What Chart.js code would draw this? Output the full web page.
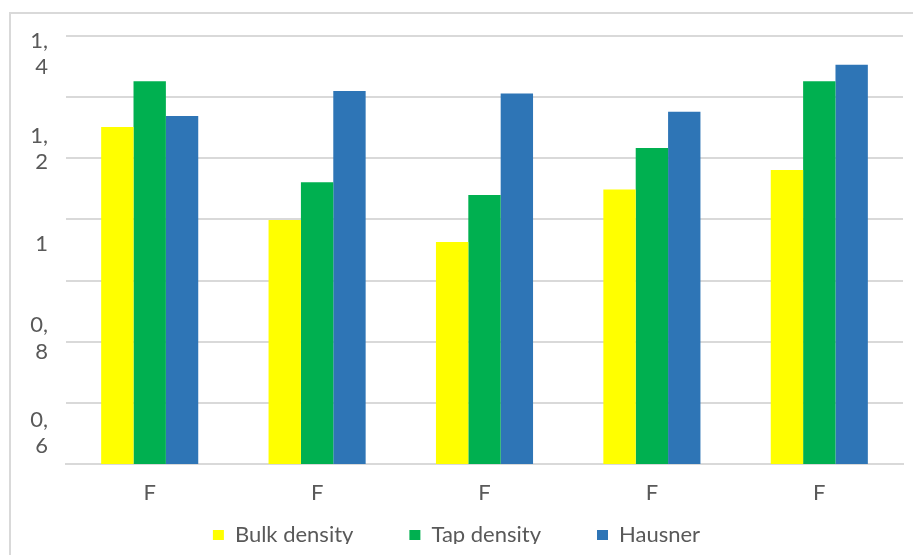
<!DOCTYPE html>
<html>
<head>
<meta charset="utf-8">
<title>Density chart</title>
<script src="https://cdn.jsdelivr.net/npm/chart.js@4.4.1/dist/chart.umd.min.js"></script>
<style>
  html, body { margin: 0; padding: 0; background: #fff; }
  #wrap { position: relative; width: 913px; height: 555px; overflow: hidden; }
  #frame {
    position: absolute; left: 9px; top: 12px; width: 1000px; height: 1000px;
    border-left: 2px solid #d9d9d9; border-top: 2px solid #d9d9d9;
  }
  #myChart { position: absolute; left: 0; top: 0; }
  /* the original picture is cut off just under the legend text */
  #cut { position: absolute; left: 12px; top: 544px; right: 0; bottom: 0; background: #fff; }
</style>
</head>
<body>
<div id="wrap">
  <div id="frame"></div>
  <canvas id="myChart" width="913" height="555"></canvas>
  <div id="cut"></div>
</div>
<script>
/* globals Chart:false */

// data
const categories = ['F', 'F', 'F', 'F', 'F']
const bulkDensity = [1.151, 0.999, 0.963, 1.049, 1.081]
const tapDensity = [1.226, 1.061, 1.040, 1.117, 1.226]
const hausner = [1.169, 1.210, 1.206, 1.176, 1.253]

// y labels as printed (wrapped like in the original)
const tickValues = [0.6, 0.8, 1.0, 1.2, 1.4]
const tickLabels = [['0,', '6'], ['0,', '8'], '1', ['1,', '2'], ['1,', '4']]

;(() => {
  'use strict'

  const grey = '#595959'
  const gridGrey = '#d9d9d9'

  Chart.defaults.font.family = 'Lato, "Liberation Sans", sans-serif'
  Chart.defaults.font.size = 22
  Chart.defaults.color = grey

  // x axis is squeezed so the legend sits close under it;
  // give its labels room again once the layout is done (they are clipped to the box)
  const xLabelRoom = {
    id: 'xLabelRoom',
    afterLayout: (chart) => {
      const x = chart.scales.x
      x.bottom = x.top + 48
    }
  }

  const ctx = document.getElementById('myChart')
  // eslint-disable-next-line no-unused-vars
  const myChart = new Chart(ctx, {
    type: 'bar',
    data: {
      labels: categories,
      datasets: [{
        label: 'Bulk density',
        data: bulkDensity,
        backgroundColor: '#ffff00'
      }, {
        label: 'Tap density',
        data: tapDensity,
        backgroundColor: '#00b050'
      }, {
        label: 'Hausner',
        data: hausner,
        backgroundColor: '#2e75b6'
      }]
    },
    options: {
      responsive: false,
      animation: false,
      devicePixelRatio: 1,
      categoryPercentage: 0.58,
      barPercentage: 1,
      layout: {
        padding: { left: 10, right: 10, top: 36, bottom: -1 }
      },
      scales: {
        x: {
          grid: { display: false },
          border: { color: gridGrey, width: 2 },
          ticks: { padding: 8, color: grey },
          afterFit: (scale) => { scale.height = 4 }
        },
        y: {
          min: 0.6,
          max: 1.3,
          ticks: { display: false, stepSize: 0.1 },
          grid: { color: gridGrey, lineWidth: 2, drawTicks: false },
          border: { display: false }
        },
        yl: {
          type: 'linear',
          position: 'left',
          min: 0.5346,
          max: 1.438,
          grid: { display: false, drawTicks: false },
          border: { display: false },
          ticks: {
            padding: 18,
            color: grey,
            callback: (value) => {
              const i = tickValues.findIndex(v => Math.abs(v - value) < 1e-6)
              return i < 0 ? '' : tickLabels[i]
            }
          },
          afterBuildTicks: (scale) => {
            scale.ticks = tickValues.map(v => ({ value: v }))
          },
          afterFit: (scale) => {
            scale.width = 56
            scale.paddingTop = 0
            scale.paddingBottom = 0
          }
        }
      },
      plugins: {
        legend: {
          position: 'bottom',
          labels: {
            boxWidth: 11,
            boxHeight: 10,
            padding: 56,
            color: grey
          }
        },
        tooltip: { enabled: false }
      }
    },
    plugins: [xLabelRoom]
  })
})()
</script>
</body>
</html>
